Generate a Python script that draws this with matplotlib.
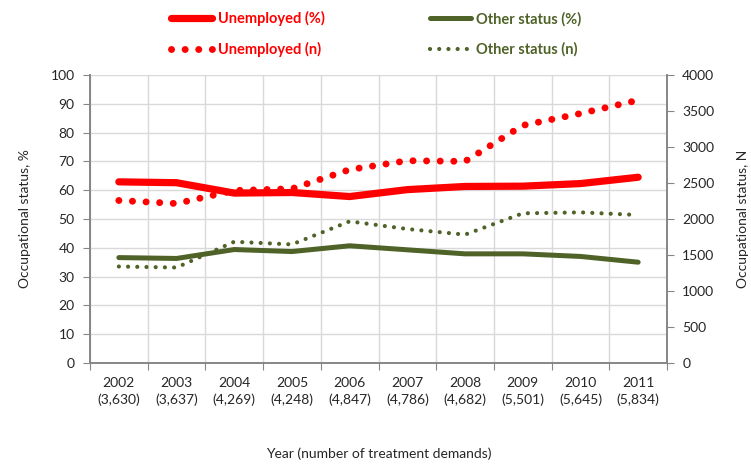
import matplotlib
matplotlib.use("Agg")
import matplotlib.pyplot as plt
import numpy as np

plt.rcParams["font.family"] = ["Lato", "DejaVu Sans"]

YEARS = ["2002", "2003", "2004", "2005", "2006", "2007", "2008", "2009", "2010", "2011"]
DEMANDS = ["3,630", "3,637", "4,269", "4,248", "4,847", "4,786", "4,682", "5,501", "5,645", "5,834"]

unemployed_pct = [62.9, 62.6, 59.0, 59.2, 57.8, 60.2, 61.3, 61.4, 62.3, 64.5]
other_pct = [36.6, 36.3, 39.4, 38.7, 40.7, 39.3, 37.9, 37.9, 37.0, 35.0]
unemployed_n = [2257, 2215, 2396, 2420, 2686, 2810, 2800, 3300, 3465, 3650]
other_n = [1340, 1326, 1684, 1647, 1967, 1861, 1783, 2079, 2092, 2056]

RED = "#ff0000"
GREEN = "#4f6228"
AXIS = "#868686"
GRID = "#d9d9d9"
TEXT = "#262626"

fig = plt.figure(figsize=(7.51, 4.68), dpi=100)
ax = fig.add_axes([90 / 751, 1 - 363 / 468, 577 / 751, 288 / 468])
ax2 = ax.twinx()

x = np.arange(len(YEARS))

l1, = ax.plot(x, unemployed_pct, color=RED, lw=5.2, solid_capstyle="round",
              solid_joinstyle="round", zorder=4)
l3, = ax.plot(x, other_pct, color=GREEN, lw=3.6, solid_capstyle="round",
              solid_joinstyle="round", zorder=4)
l2, = ax2.plot(x, unemployed_n, color=RED, lw=5.0, linestyle=(0, (0.01, 1.95)),
               dash_capstyle="round", zorder=4)
l4, = ax2.plot(x, other_n, color=GREEN, lw=3.0, linestyle=(0, (0.01, 2.2)),
               dash_capstyle="round", zorder=4)

ax.set_xlim(-0.5, len(YEARS) - 0.5)
ax.set_ylim(0, 100)
ax2.set_ylim(0, 4000)
ax.set_yticks(np.arange(0, 101, 10))
ax2.set_yticks(np.arange(0, 4001, 500))

# category boundaries carry the grid and ticks, labels sit on the centres
ax.set_xticks(np.arange(len(YEARS) + 1) - 0.5)
ax.set_xticklabels([])
ax.set_xticks(x, minor=True)
ax.set_xticklabels([f"{y}\n({d})" for y, d in zip(YEARS, DEMANDS)], minor=True,
                   linespacing=1.45)
ax.tick_params(axis="x", which="minor", length=0, pad=10, labelsize=10, labelcolor=TEXT)
ax.tick_params(axis="x", which="major", length=5, color=AXIS, direction="out")

ax.grid(True, which="major", color=GRID, lw=1)
ax.set_axisbelow(True)

for a in (ax, ax2):
    a.spines["top"].set_visible(False)
    for side in ("left", "right", "bottom"):
        a.spines[side].set_color(AXIS)
        a.spines[side].set_linewidth(1.2)
    a.tick_params(axis="y", length=5, color=AXIS, labelsize=10, labelcolor=TEXT, pad=6)

ax.set_ylabel("Occupational status, %", fontsize=10, color=TEXT, labelpad=14)
ax2.set_ylabel("Occupational status, N", fontsize=10, color=TEXT, labelpad=16)
ax.set_xlabel("Year (number of treatment demands)", fontsize=10, color=TEXT, labelpad=30)

leg = fig.legend([l1, l2, l3, l4],
                 ["Unemployed (%)", "Unemployed (n)", "Other status (%)", "Other status (n)"],
                 ncol=2, loc="upper left", bbox_to_anchor=(158 / 751, 1 + 2 / 468),
                 frameon=False, handlelength=2.8, handletextpad=0.4,
                 columnspacing=7.2, labelspacing=1.1,
                 prop={"weight": "bold", "size": 10.5}, labelcolor="linecolor")

fig.savefig("out.png", dpi=100)
